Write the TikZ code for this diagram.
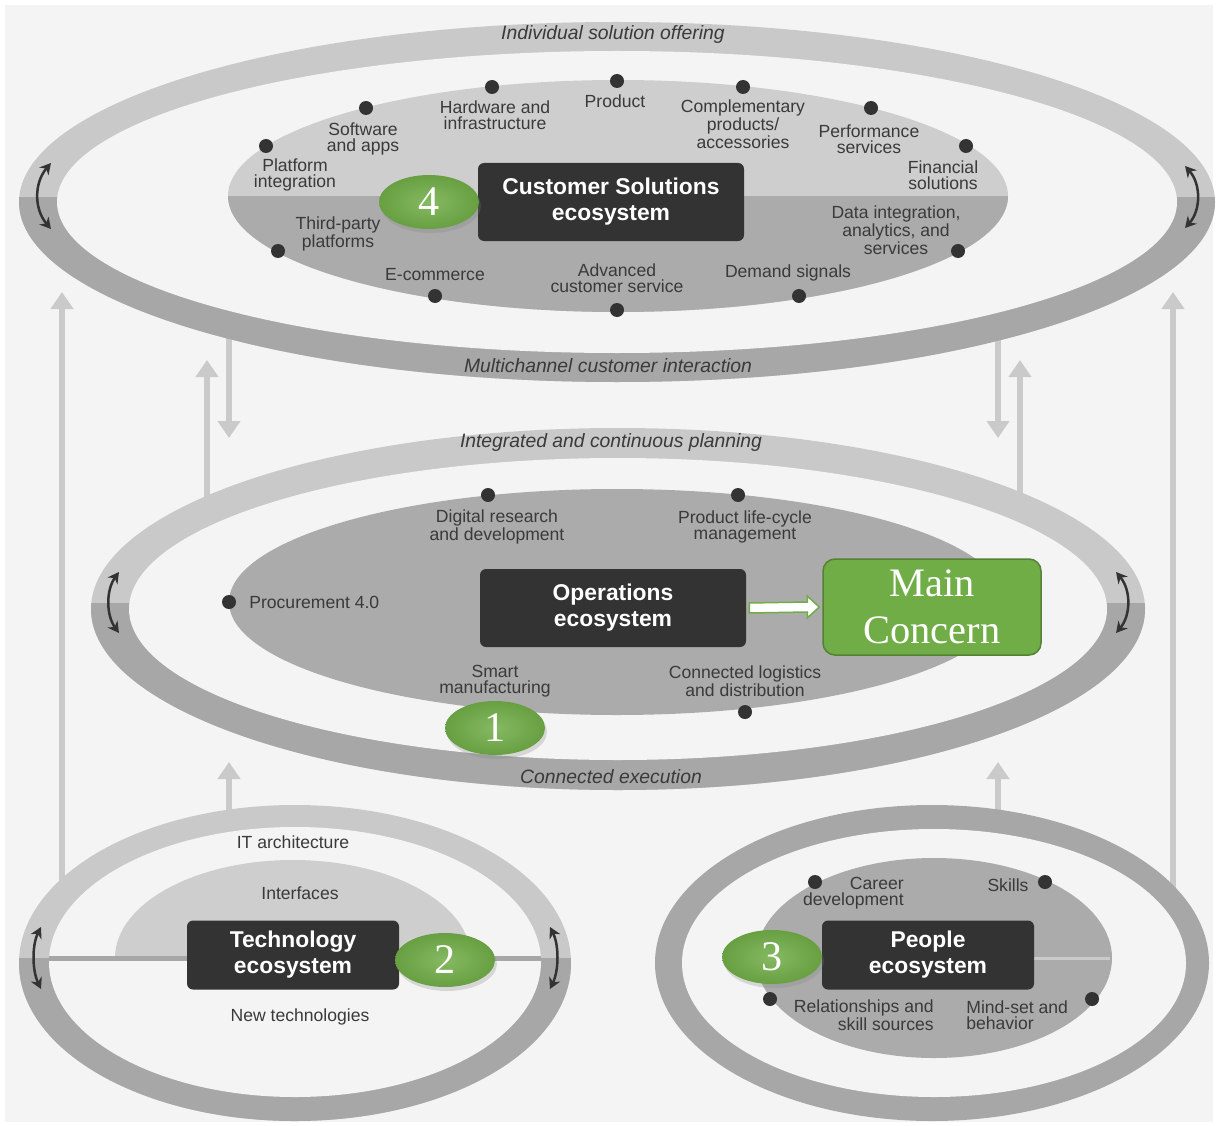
\documentclass[tikz,border=0pt]{standalone}
\usepackage{fontspec}
\setmainfont{Liberation Sans}
\newfontfamily\serifnum{Liberation Serif}
\usepackage{tikz}
\usetikzlibrary{
    arrows.meta,
    positioning,
    calc,
    shadows,
    shapes.geometric
}
\definecolor{bgc}{HTML}{F4F4F4}
\definecolor{ringlt}{HTML}{C9C9C9}
\definecolor{ringdk}{HTML}{A7A7A7}
\definecolor{innlt}{HTML}{CECECE}
\definecolor{inndk}{HTML}{ABABAB}
\definecolor{flowc}{HTML}{CACACA}
\definecolor{boxc}{HTML}{333333}
\definecolor{txtc}{HTML}{3A3A3A}
\definecolor{mgreen}{HTML}{70AD47}
\definecolor{dgreen}{HTML}{548235}

\begin{document}
\begin{tikzpicture}[x=0.2mm,y=-0.2mm,
   lbl/.style={font=\fontsize{10}{9.3}\selectfont,text=txtc,align=center,inner sep=0pt},
   rlbl/.style={font=\fontsize{11}{12}\selectfont\itshape,text=txtc,inner sep=0pt},
   dot/.style={circle,fill=boxc,minimum size=2.8mm,inner sep=0pt},
   eco/.style={rounded corners=1.2mm,fill=boxc,text=white,align=center,inner sep=0pt,
     font=\fontsize{13}{14.8}\selectfont\bfseries,minimum width=53.2mm,minimum height=15.6mm},
   badge/.style={ellipse,minimum width=20mm,minimum height=10.8mm,inner sep=0pt,
     inner color=mgreen!85!white,outer color=mgreen!92!black,text=white,
     font=\serifnum\fontsize{24}{24}\selectfont,
     drop shadow={opacity=.25,shadow xshift=.4mm,shadow yshift=-.8mm}},
   flow/.style={draw=flowc,line width=1.2mm,-{Triangle[width=4.4mm,length=3.4mm]}},
   swing/.style={draw=boxc,line width=0.5mm,
     {Stealth[length=2.2mm,width=2.4mm]}-{Stealth[length=2.2mm,width=2.4mm]}}]
  \useasboundingbox (0,0) rectangle (1217,1126);
  \fill[white] (0,0) rectangle (1217,1126);
  \fill[bgc] (5,5) rectangle (1213,1122);

  % flows between the rings
  \coordinate (l1a) at (62,900);   \coordinate (l1b) at (62,292);
  \coordinate (l2a) at (229,330);  \coordinate (l2b) at (229,438);
  \coordinate (l3a) at (207,505);  \coordinate (l3b) at (207,360);
  \coordinate (l4a) at (229,820);  \coordinate (l4b) at (229,762);
  \coordinate (r1a) at (1173,895); \coordinate (r1b) at (1173,292);
  \coordinate (r2a) at (998,330);  \coordinate (r2b) at (998,438);
  \coordinate (r3a) at (1020,500); \coordinate (r3b) at (1020,360);
  \coordinate (r4a) at (998,820);  \coordinate (r4b) at (998,762);
  \foreach \a in {l1,l2,l3,l4,r1,r2,r3,r4}
    \draw[flow] (\a a) -- (\a b);

  % customer ring
  \fill[ringlt] (617,202) ellipse [x radius=598, y radius=180];
  \begin{scope}
    \clip (0,198) rectangle (1217,400);
    \fill[ringdk] (617,202) ellipse [x radius=598, y radius=180];
  \end{scope}
  \fill[bgc] (617,202) ellipse [x radius=560, y radius=151];
  \fill[innlt] (618,196) ellipse [x radius=390, y radius=116];
  \begin{scope}
    \clip (0,197) rectangle (1217,330);
    \fill[inndk] (618,196) ellipse [x radius=390, y radius=116];
  \end{scope}

  % operations ring
  \fill[ringlt] (618,609) ellipse [x radius=527, y radius=181];
  \begin{scope}
    \clip (0,603) rectangle (1217,800);
    \fill[ringdk] (618,609) ellipse [x radius=527, y radius=181];
  \end{scope}
  \fill[bgc] (618,609) ellipse [x radius=489, y radius=151];
  \fill[inndk] (617,602) ellipse [x radius=388, y radius=113];

  % technology ring
  \fill[ringlt] (295,963) ellipse [x radius=276, y radius=158];
  \begin{scope}
    \clip (0,958) rectangle (620,1126);
    \fill[ringdk] (295,963) ellipse [x radius=276, y radius=158];
  \end{scope}
  \fill[bgc] (295,962) ellipse [x radius=246, y radius=135];
  \begin{scope}
    \clip (0,800) rectangle (620,958);
    \fill[innlt] (293,958) ellipse [x radius=178, y radius=98];
  \end{scope}
  \fill[ringdk] (49,956) rectangle (541,961);

  % people ring
  \fill[ringdk] (932,963) ellipse [x radius=277, y radius=158];
  \fill[bgc] (934,963) ellipse [x radius=252, y radius=134];
  \fill[inndk] (934,958) ellipse [x radius=178, y radius=100];
  \fill[innlt!90!inndk] (1034,957) rectangle (1110,960);

  % ring captions
  \node[rlbl] (c1) at (613,35) {Individual solution offering};
  \node[rlbl] (c2) at (608,366) {Multichannel customer interaction};
  \node[rlbl] (c3) at (611,442) {Integrated and continuous planning};
  \node[rlbl] (c4) at (611,777) {Connected execution};

  % customer solutions ecosystem
  \node[eco] (cse) at (611,202) {Customer Solutions\\ecosystem};
  \node[dot] (d1) at (266,146){};  \node[lbl] (t1) at (295,175) {Platform\\integration};
  \node[dot] (d2) at (366,108){};  \node[lbl] (t2) at (363,139) {Software\\and apps};
  \node[dot] (d3) at (492,87){};   \node[lbl] (t3) at (495,115) {Hardware and\\infrastructure};
  \node[dot] (d4) at (617,81){};   \node[lbl] (t4) at (615,101) {Product};
  \node[dot] (d5) at (743,87){};   \node[lbl] (t5) at (743,124) {Complementary\\products/\\accessories};
  \node[dot] (d6) at (871,108){};  \node[lbl] (t6) at (869,139) {Performance\\services};
  \node[dot] (d7) at (966,146){};  \node[lbl] (t7) at (943,175) {Financial\\solutions};
  \node[dot] (d8) at (958,251){};  \node[lbl] (t8) at (896,230) {Data integration,\\analytics, and\\services};
  \node[dot] (d9) at (799,296){};  \node[lbl] (t9) at (788,273) {Demand signals};
  \node[dot] (d10) at (617,310){}; \node[lbl] (t10) at (617,278) {Advanced\\customer service};
  \node[dot] (d11) at (435,296){}; \node[lbl] (t11) at (435,275) {E-commerce};
  \node[dot] (d12) at (278,251){}; \node[lbl] (t12) at (338,234) {Third-party\\platforms};

  % operations ecosystem
  \node[eco] (ops) at (613,608) {Operations\\ecosystem};
  \node[rounded corners=2.4mm,fill=mgreen,draw=dgreen,line width=0.3mm,text=white,align=center,
    font=\serifnum\fontsize{23}{27}\selectfont,minimum width=43.6mm,minimum height=19.2mm,inner sep=0pt]
    (mc) at (932,607) {Main\\Concern};
  \draw[fill=white,draw=mgreen,line width=0.3mm]
    ($(ops.east)+(3,-5)$) -- ($(mc.west)+(-15,-5)$) -- ($(mc.west)+(-15,-11)$) -- ($(mc.west)+(-3,0)$)
    -- ($(mc.west)+(-15,11)$) -- ($(mc.west)+(-15,5)$) -- ($(ops.east)+(3,5)$) -- cycle;
  \node[dot] (m1) at (488,495){};  \node[lbl] (o1) at (497,527) {Digital research\\and development};
  \node[dot] (m2) at (738,495){};  \node[lbl] (o2) at (745,527) {Product life-cycle\\management};
  \node[dot] (m3) at (229,602){};  \node[lbl,anchor=west] (o3) at (249,602) {Procurement 4.0};
  \node[lbl] (o4) at (495,681) {Smart\\manufacturing};
  \node[dot] (m5) at (745,712){};  \node[lbl] (o5) at (745,681) {Connected logistics\\and distribution};

  % technology ecosystem
  \node[eco,minimum width=42.4mm,minimum height=13.8mm] (tec) at (293,955) {Technology\\ecosystem};
  \node[lbl] (e1) at (293,842) {IT architecture};
  \node[lbl] (e2) at (300,893) {Interfaces};
  \node[lbl] (e3) at (300,1017) {New technologies};

  % people ecosystem
  \node[eco,minimum width=42.4mm,minimum height=13.8mm] (ppl) at (928,955) {People\\ecosystem};
  \node[dot] (p1) at (815,882){};  \node[lbl,align=right,anchor=east] (q1) at (904,893) {Career\\development};
  \node[dot] (p2) at (1045,882){}; \node[lbl] (q2) at (1008,885) {Skills};
  \node[dot] (p3) at (770,999){};  \node[lbl,align=right,anchor=east] (q3) at (934,1015) {Relationships and\\skill sources};
  \node[dot] (p4) at (1092,999){}; \node[lbl,align=left,anchor=west] (q4) at (966,1015) {Mind-set and\\behavior};

  % numbered badges
  \node[badge] (b4) at (429,202) {4};
  \node[badge] (b1) at (495,728) {1};
  \node[badge] (b2) at (445,960) {2};
  \node[badge] (b3) at (772,957) {3};

  % turn arrows on the rings
  \coordinate (s1a) at (51,163);   \coordinate (s1b) at (51,229);
  \coordinate (s2a) at (1185,166); \coordinate (s2b) at (1185,228);
  \coordinate (s3a) at (119,572);  \coordinate (s3b) at (119,633);
  \coordinate (s4a) at (1116,572); \coordinate (s4b) at (1116,633);
  \coordinate (s5a) at (41,927);   \coordinate (s5b) at (41,989);
  \coordinate (s6a) at (550,927);  \coordinate (s6b) at (550,989);
  \draw[swing] (s1a) .. controls (34,183) and (34,209) .. (s1b);
  \draw[swing] (s2a) .. controls (1201,184) and (1201,210) .. (s2b);
  \draw[swing] (s3a) .. controls (106,590) and (106,615) .. (s3b);
  \draw[swing] (s4a) .. controls (1131,590) and (1131,615) .. (s4b);
  \draw[swing] (s5a) .. controls (32,945) and (32,970) .. (s5b);
  \draw[swing] (s6a) .. controls (559,945) and (559,970) .. (s6b);
\end{tikzpicture}
\end{document}
